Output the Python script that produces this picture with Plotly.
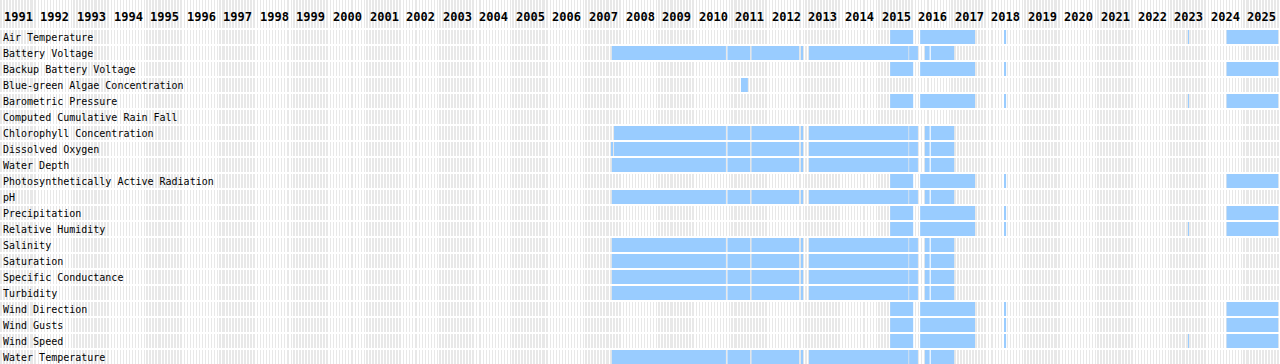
import numpy as np
import plotly.graph_objects as go

# ---------------- data ----------------
parameters = [
    "Air Temperature", "Battery Voltage", "Backup Battery Voltage",
    "Blue-green Algae Concentration", "Barometric Pressure",
    "Computed Cumulative Rain Fall", "Chlorophyll Concentration",
    "Dissolved Oxygen", "Water Depth", "Photosynthetically Active Radiation",
    "pH", "Precipitation", "Relative Humidity", "Salinity", "Saturation",
    "Specific Conductance", "Turbidity", "Wind Direction", "Wind Gusts",
    "Wind Speed", "Water Temperature",
]

first_year = 1991
last_year = 2026
year_labels = [str(y) for y in range(first_year, last_year)]

# water-quality sonde record (decimal years)
wq_start = [2007.73, 2010.89, 2011.55, 2012.90, 2013.12, 2015.86, 2016.29, 2016.45]
wq_end = [2010.85, 2011.51, 2012.85, 2012.96, 2015.84, 2016.10, 2016.42, 2017.09]
chl_first_start = 2007.79
do_sliver_start = [2007.73]
do_sliver_end = [2007.755]

# meteorological station record (decimal years)
met_start = [2015.34, 2016.16, 2018.48, 2024.54]
met_end = [2015.97, 2017.66, 2018.51, 2025.95]
met2023_start = [2023.485]
met2023_end = [2023.51]

algae_start = [2011.26]
algae_end = [2011.45]

wq_params = ["Battery Voltage", "Chlorophyll Concentration", "Dissolved Oxygen",
             "Water Depth", "pH", "Salinity", "Saturation", "Specific Conductance",
             "Turbidity", "Water Temperature"]
met_params = ["Air Temperature", "Backup Battery Voltage", "Barometric Pressure",
              "Photosynthetically Active Radiation", "Precipitation",
              "Relative Humidity", "Wind Direction", "Wind Gusts", "Wind Speed"]
met2023_params = ["Air Temperature", "Barometric Pressure", "Relative Humidity",
                  "Wind Speed"]

# ---------------- build segments ----------------
seg_y, seg_base, seg_len = [], [], []


def add(p, starts, ends):
    for s, e in zip(starts, ends):
        seg_y.append(p)
        seg_base.append(s)
        seg_len.append(e - s)


for p in wq_params:
    st = list(wq_start)
    if p == "Chlorophyll Concentration":
        st[0] = chl_first_start
    if p == "Dissolved Oxygen":
        st[0] = chl_first_start
        add(p, do_sliver_start, do_sliver_end)
    add(p, st, wq_end)
for p in met_params:
    add(p, met_start, met_end)
for p in met2023_params:
    add(p, met2023_start, met2023_end)
add("Blue-green Algae Concentration", algae_start, algae_end)

# ---------------- background month stripes ----------------
n_months = (last_year - first_year) * 12
month_edges = first_year + np.arange(n_months + 1) / 12.0
month_year = first_year + np.arange(n_months) // 12
odd = (month_year % 2) == 1
z_odd = np.where(odd, 1.0, np.nan)
z_even = np.where(~odd, 1.0, np.nan)

GREY = "#e8e8e8"
BLUE = "#99ccff"
cs = [[0, GREY], [1, GREY]]
n = len(parameters)

fig = go.Figure()
for z, gap in ((z_odd, 1), (z_even, 2)):
    fig.add_trace(go.Heatmap(
        x=month_edges, y=parameters, z=np.tile(z, (n, 1)),
        colorscale=cs, showscale=False, xgap=gap, ygap=2,
        hoverinfo="skip", zmin=0, zmax=1))
    fig.add_trace(go.Heatmap(
        x=month_edges, y=["header"], z=z[None, :], yaxis="y2",
        colorscale=cs, showscale=False, xgap=gap, ygap=0,
        hoverinfo="skip", zmin=0, zmax=1))

fig.add_trace(go.Bar(
    orientation="h", y=seg_y, x=seg_len, base=seg_base,
    marker=dict(color=BLUE, line=dict(width=0)),
    hovertemplate="%{y}<br>%{base:.2f} – %{x:.2f}<extra></extra>",
))

W, H = 1280, 364
HEADER = 28
row_px = (H - HEADER) / n
shift = 1.0 / row_px

for i, lab in enumerate(year_labels):
    fig.add_annotation(
        x=first_year + i + 0.5, y=1 - 17.0 / H, xref="x", yref="paper",
        text=lab, showarrow=False, xanchor="center", yanchor="middle",
        font=dict(family="DejaVu Sans Mono", size=12, color="black", weight="bold"),
    )

fig.update_layout(
    width=W, height=H, autosize=False,
    margin=dict(l=0, r=0, t=0, b=0, pad=0),
    paper_bgcolor="white", plot_bgcolor="white",
    showlegend=False, bargap=0.125,
    xaxis=dict(range=[first_year, last_year], visible=False, fixedrange=True),
    yaxis=dict(
        domain=[0, (H - HEADER) / H], type="category",
        categoryorder="array", categoryarray=parameters,
        range=[n - 0.5 - shift, -0.5 - shift],
        showgrid=False, zeroline=False, showline=False, ticks="",
        showticklabels=True, ticklabelposition="inside",
        tickfont=dict(family="DejaVu Sans Mono", size=10, color="black"),
        fixedrange=True,
    ),
    yaxis2=dict(domain=[(H - HEADER) / H, 1], visible=False,
                range=[-0.5, 0.5], fixedrange=True),
)

fig.write_html("out.html", config={"displayModeBar": False},
               post_script="document.body.style.margin='0';")
